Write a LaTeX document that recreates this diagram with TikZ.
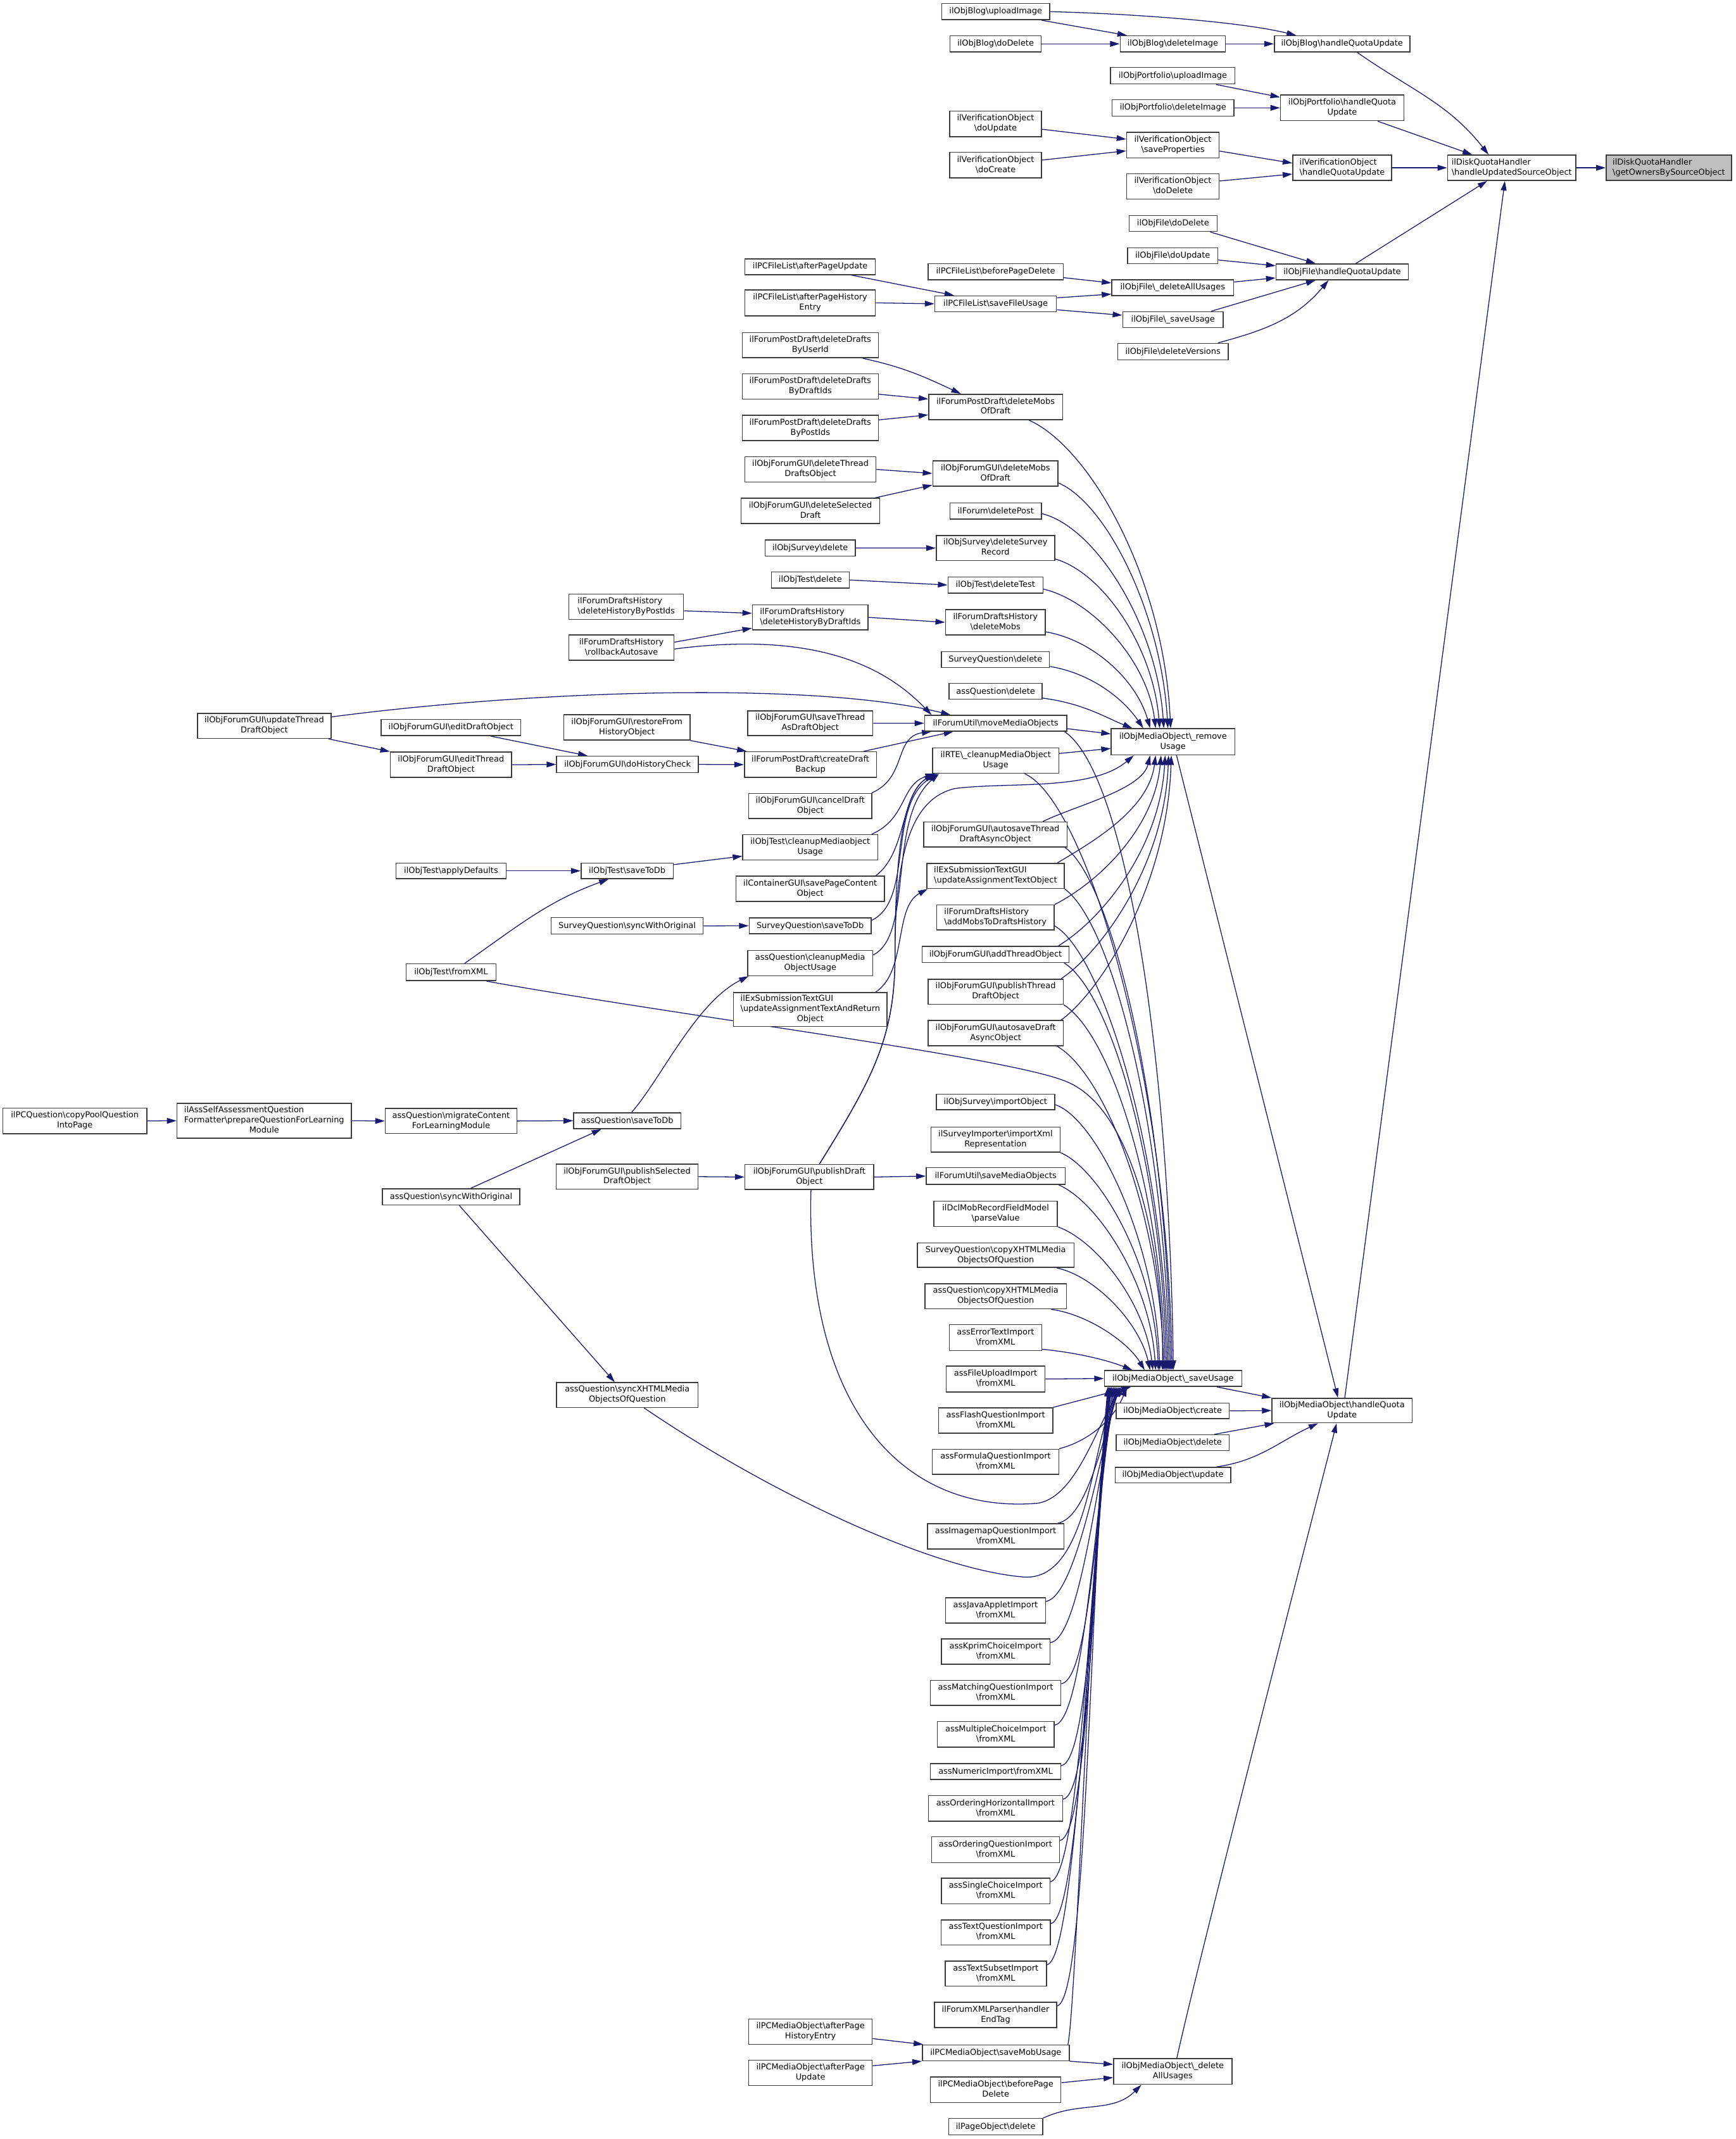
\documentclass[tikz,border=0pt]{standalone}
\usepackage{fontspec}
\setmainfont{DejaVu Sans}
\usetikzlibrary{arrows.meta}
\definecolor{edgec}{RGB}{25,25,112}
\definecolor{nodec}{RGB}{60,60,60}
\definecolor{rootc}{RGB}{191,191,191}
\newcommand\qbs{\textbackslash}
\newcommand\twol[2]{\begin{tabular}{@{}l@{}}#1\\\multicolumn{1}{@{}c@{}}{#2}\end{tabular}}
\newcommand\threel[3]{\begin{tabular}{@{}l@{}}#1\\#2\\\multicolumn{1}{@{}c@{}}{#3}\end{tabular}}
\newcommand\nd[7][]{\node[nb,#1,minimum width={(#5)-(#3)},minimum height={(#6)-(#4)}] (#2) at ({((#3)+(#5))/2},{-((#4)+(#6))/2}) {#7};}
\pgfdeclarelayer{bg}
\pgfsetlayers{bg,main}
\tikzset{nb/.style={draw=nodec,line width=0.7pt,fill=white,inner sep=0pt,font=\fontsize{6}{7.4}\selectfont},
edg/.style={draw=edgec,line width=0.6pt,-{Triangle[length=7pt,width=4.2pt]}}}
\begin{document}
\begin{tikzpicture}[x=1pt,y=1pt]
\begin{pgfonlayer}{bg}
\fill[white] (0,0) rectangle (1272,-1568);
\end{pgfonlayer}
\useasboundingbox (0,0) rectangle (1272,-1568);
% ---------------- nodes ----------------
\nd[fill=rootc]{root}{1177.2}{113.7}{1269.2}{132.3}{\twol{ilDiskQuotaHandler}{\qbs getOwnersBySourceObject}}
\nd{hus}{1061}{113.7}{1155}{132.3}{\twol{ilDiskQuotaHandler}{\qbs handleUpdatedSourceObject}}
\nd{blogHQ}{934}{26.3}{1033.3}{38}{ilObjBlog\qbs handleQuotaUpdate}
\nd{blogDel}{821}{26.3}{898.2}{38}{ilObjBlog\qbs deleteImage}
\nd{blogDoDel}{696.3}{26.3}{763.2}{38}{ilObjBlog\qbs doDelete}
\nd{blogUp}{690.2}{2.6}{769.4}{14.5}{ilObjBlog\qbs uploadImage}
\nd{pfUp}{814}{49.5}{905.2}{61.6}{ilObjPortfolio\qbs uploadImage}
\nd{pfDel}{815}{73}{904.5}{85.1}{ilObjPortfolio\qbs deleteImage}
\nd{pfHQ}{938.5}{69.6}{1029}{88.5}{\twol{ilObjPortfolio\qbs handleQuota}{Update}}
\nd{voUpd}{696}{81.5}{763.4}{100.2}{\twol{ilVerificationObject}{\qbs doUpdate}}
\nd{voCre}{696}{111.7}{763.4}{130.4}{\twol{ilVerificationObject}{\qbs doCreate}}
\nd{voSave}{825.8}{97}{893.5}{115.7}{\twol{ilVerificationObject}{\qbs saveProperties}}
\nd{voDel}{825.8}{127.3}{893.5}{145.9}{\twol{ilVerificationObject}{\qbs doDelete}}
\nd{voHQ}{947.5}{113.7}{1020}{132.3}{\twol{ilVerificationObject}{\qbs handleQuotaUpdate}}
\nd{fDoDel}{827.5}{158.1}{892.1}{169.7}{ilObjFile\qbs doDelete}
\nd{fDoUpd}{826.5}{181.6}{892.6}{193.2}{ilObjFile\qbs doUpdate}
\nd{fHQ}{935.3}{193.5}{1032.2}{205.1}{ilObjFile\qbs handleQuotaUpdate}
\nd{fDelAll}{814.9}{205.1}{904.2}{216.7}{ilObjFile\qbs\_deleteAllUsages}
\nd{fSave}{822.9}{228.5}{896.6}{240.1}{ilObjFile\qbs\_saveUsage}
\nd{fDelVer}{819.2}{251.7}{900.2}{263.9}{ilObjFile\qbs deleteVersions}
\nd{flUpd}{546}{189.7}{641.6}{201.3}{ilPCFileList\qbs afterPageUpdate}
\nd{flHist}{546}{212.5}{641.6}{231.5}{\twol{ilPCFileList\qbs afterPageHistory}{Entry}}
\nd{flBefore}{680.2}{193.3}{779.3}{205}{ilPCFileList\qbs beforePageDelete}
\nd{flSave}{685.2}{216.9}{774.3}{228.5}{ilPCFileList\qbs saveFileUsage}
\nd{pdUser}{544}{243.8}{643.8}{262.3}{\twol{ilForumPostDraft\qbs deleteDrafts}{ByUserId}}
\nd{pdDraft}{544}{274}{643.8}{292.5}{\twol{ilForumPostDraft\qbs deleteDrafts}{ByDraftIds}}
\nd{pdPost}{544}{304.3}{643.8}{323}{\twol{ilForumPostDraft\qbs deleteDrafts}{ByPostIds}}
\nd{pdMobs}{680.7}{289}{778.8}{307.6}{\twol{ilForumPostDraft\qbs deleteMobs}{OfDraft}}
\nd{fgThread}{546}{334.8}{642}{353.4}{\twol{ilObjForumGUI\qbs deleteThread}{DraftsObject}}
\nd{fgSel}{543.2}{365.3}{644.8}{383.7}{\twol{ilObjForumGUI\qbs deleteSelected}{Draft}}
\nd{fgMobs}{683.7}{337.8}{775.5}{356.3}{\twol{ilObjForumGUI\qbs deleteMobs}{OfDraft}}
\nd{fDelPost}{696.3}{368.6}{763.3}{380.4}{ilForum\qbs deletePost}
\nd{svDel}{560.7}{395.8}{627}{407.6}{ilObjSurvey\qbs delete}
\nd{svRec}{686.2}{392.5}{773}{411}{\twol{ilObjSurvey\qbs deleteSurvey}{Record}}
\nd{tDel}{565.4}{419.2}{622.4}{431.1}{ilObjTest\qbs delete}
\nd{tDelTest}{694.8}{422.9}{764.4}{434.8}{ilObjTest\qbs deleteTest}
\nd{hPost}{417}{435.5}{501}{454}{\twol{ilForumDraftsHistory}{\qbs deleteHistoryByPostIds}}
\nd{hDraft}{551.5}{443.4}{636.3}{461.7}{\twol{ilForumDraftsHistory}{\qbs deleteHistoryByDraftIds}}
\nd{rollback}{417}{465.5}{494}{484}{\twol{ilForumDraftsHistory}{\qbs rollbackAutosave}}
\nd{hMobs}{693}{446.9}{766.2}{465.5}{\twol{ilForumDraftsHistory}{\qbs deleteMobs}}
\nd{sqDel}{690}{477.7}{769.2}{489.4}{SurveyQuestion\qbs delete}
\nd{aqDel}{695.6}{500.9}{763.9}{512.6}{assQuestion\qbs delete}
\nd{fgUpdThr}{144.7}{523}{242.7}{541.3}{\twol{ilObjForumGUI\qbs updateThread}{DraftObject}}
\nd{fgEditDraft}{279.4}{527.3}{381.7}{539.3}{ilObjForumGUI\qbs editDraftObject}
\nd{fgRestore}{413.3}{523.8}{505.7}{542.5}{\twol{ilObjForumGUI\qbs restoreFrom}{HistoryObject}}
\nd{fgSaveThr}{548}{521.1}{639.7}{539.3}{\twol{ilObjForumGUI\qbs saveThread}{AsDraftObject}}
\nd{moveMO}{677.7}{524.4}{781.8}{535.9}{ilForumUtil\qbs moveMediaObjects}
\nd{remU}{814.5}{534.2}{905}{553.4}{\twol{ilObjMediaObject\qbs\_remove}{Usage}}
\nd{fgEditThr}{286.1}{551.3}{375}{569.9}{\twol{ilObjForumGUI\qbs editThread}{DraftObject}}
\nd{fgHist}{408}{554.4}{511.9}{566.3}{ilObjForumGUI\qbs doHistoryCheck}
\nd{pdBackup}{545.6}{551.1}{642.4}{569.9}{\twol{ilForumPostDraft\qbs createDraft}{Backup}}
\nd{rte}{683.6}{548.2}{776}{566.8}{\twol{ilRTE\qbs\_cleanupMediaObject}{Usage}}
\nd{fgCancel}{548.8}{581.6}{639}{600}{\twol{ilObjForumGUI\qbs cancelDraft}{Object}}
\nd{fgAutoThr}{677}{602.5}{782.1}{621}{\twol{ilObjForumGUI\qbs autosaveThread}{DraftAsyncObject}}
\nd{tClean}{544.4}{611.9}{643.3}{630.3}{\twol{ilObjTest\qbs cleanupMediaobject}{Usage}}
\nd{tDefaults}{290.2}{632.7}{371}{644.1}{ilObjTest\qbs applyDefaults}
\nd{tSave}{425.9}{632.7}{493.4}{644.1}{ilObjTest\qbs saveToDb}
\nd{exUpd}{679.3}{632.9}{780}{651.3}{\twol{ilExSubmissionTextGUI}{\qbs updateAssignmentTextObject}}
\nd{cont}{539.4}{642.3}{648.3}{660.8}{\twol{ilContainerGUI\qbs savePageContent}{Object}}
\nd{hAdd}{686.6}{663.4}{772.6}{681.6}{\twol{ilForumDraftsHistory}{\qbs addMobsToDraftsHistory}}
\nd{sqSync}{403.9}{672.7}{515.4}{684.8}{SurveyQuestion\qbs syncWithOriginal}
\nd{sqSave}{549.1}{672.8}{638.5}{684.5}{SurveyQuestion\qbs saveToDb}
\nd{fgAdd}{675.8}{693.7}{783.6}{705.5}{ilObjForumGUI\qbs addThreadObject}
\nd{aqClean}{548}{696.8}{639.7}{715.2}{\twol{assQuestion\qbs cleanupMedia}{ObjectUsage}}
\nd{tXML}{297.7}{706.5}{363.5}{718.9}{ilObjTest\qbs fromXML}
\nd{fgPubThr}{680.2}{717.8}{779.3}{736.2}{\twol{ilObjForumGUI\qbs publishThread}{DraftObject}}
\nd{exUpdRet}{537.6}{727.5}{650.2}{752.4}{\threel{ilExSubmissionTextGUI}{\qbs updateAssignmentTextAndReturn}{Object}}
\nd{fgAutoDr}{680.2}{748.1}{779.3}{766.5}{\twol{ilObjForumGUI\qbs autosaveDraft}{AsyncObject}}
\nd{svImp}{686.2}{802.1}{773.1}{813.5}{ilObjSurvey\qbs importObject}
\nd{svImpXml}{682.3}{826.2}{777}{844.6}{\twol{ilSurveyImporter\qbs importXml}{Representation}}
\nd{copyPool}{2.1}{812.4}{107.6}{831}{\twol{ilPCQuestion\qbs copyPoolQuestion}{IntoPage}}
\nd{prep}{129.7}{808.7}{257.6}{834.4}{\threel{ilAssSelfAssessmentQuestion}{Formatter\qbs prepareQuestionForLearning}{Module}}
\nd{migr}{282.4}{812.6}{378.8}{830.9}{\twol{assQuestion\qbs migrateContent}{ForLearningModule}}
\nd{aqSave}{420.4}{815.7}{499}{827.4}{assQuestion\qbs saveToDb}
\nd{fgPubSel}{407.6}{853.3}{511.7}{871.8}{\twol{ilObjForumGUI\qbs publishSelected}{DraftObject}}
\nd{fgPub}{546}{853.6}{640.4}{872}{\twol{ilObjForumGUI\qbs publishDraft}{Object}}
\nd{saveMO}{678.9}{856}{780.7}{868.3}{ilForumUtil\qbs saveMediaObjects}
\nd{dcl}{684.5}{880.5}{775}{899}{\twol{ilDclMobRecordFieldModel}{\qbs parseValue}}
\nd{sqCopy}{672.4}{911.2}{787.2}{929.1}{\twol{SurveyQuestion\qbs copyXHTMLMedia}{ObjectsOfQuestion}}
\nd{aqCopy}{678}{941}{781.6}{959.4}{\twol{assQuestion\qbs copyXHTMLMedia}{ObjectsOfQuestion}}
\nd{aqSync}{280.3}{871.4}{381}{883.3}{assQuestion\qbs syncWithOriginal}
\nd{iErr}{695.8}{971.1}{763.5}{990}{\twol{assErrorTextImport}{\qbs fromXML}}
\nd{iFile}{693.5}{1001.4}{766}{1020.3}{\twol{assFileUploadImport}{\qbs fromXML}}
\nd{saveU}{809.4}{1004.7}{910.2}{1016.3}{ilObjMediaObject\qbs\_saveUsage}
\nd{moHQ}{932.3}{1025}{1035}{1043}{\twol{ilObjMediaObject\qbs handleQuota}{Update}}
\nd{moCreate}{818}{1028.5}{901}{1040}{ilObjMediaObject\qbs create}
\nd{iFlash}{687.9}{1032}{771.6}{1050.5}{\twol{assFlashQuestionImport}{\qbs fromXML}}
\nd{moDelete}{818}{1051.8}{901}{1063.3}{ilObjMediaObject\qbs delete}
\nd{iFormula}{683.4}{1062.3}{776}{1080.7}{\twol{assFormulaQuestionImport}{\qbs fromXML}}
\nd{moUpdate}{817.3}{1075.6}{902}{1087}{ilObjMediaObject\qbs update}
\nd{aqSyncX}{408}{1013.5}{511.5}{1031.7}{\twol{assQuestion\qbs syncXHTMLMedia}{ObjectsOfQuestion}}
\nd{iImg}{679.7}{1117}{779.8}{1135.4}{\twol{assImagemapQuestionImport}{\qbs fromXML}}
\nd{iJava}{693}{1171.3}{766.3}{1189.7}{\twol{assJavaAppletImport}{\qbs fromXML}}
\nd{iKprim}{690}{1201.5}{769.6}{1220}{\twol{assKprimChoiceImport}{\qbs fromXML}}
\nd{iMatch}{681.9}{1231.7}{777.5}{1250.2}{\twol{assMatchingQuestionImport}{\qbs fromXML}}
\nd{iMC}{687}{1262}{772.7}{1280.8}{\twol{assMultipleChoiceImport}{\qbs fromXML}}
\nd{iNum}{681.9}{1292.7}{777.5}{1304.5}{assNumericImport\qbs fromXML}
\nd{iOrdH}{680.6}{1316.3}{778.8}{1335.1}{\twol{assOrderingHorizontalImport}{\qbs fromXML}}
\nd{iOrdQ}{682.8}{1346.5}{776.5}{1365.4}{\twol{assOrderingQuestionImport}{\qbs fromXML}}
\nd{iSC}{690}{1376.7}{769.6}{1395.6}{\twol{assSingleChoiceImport}{\qbs fromXML}}
\nd{iTQ}{689.7}{1407.4}{769.9}{1425.8}{\twol{assTextQuestionImport}{\qbs fromXML}}
\nd{iTS}{692.7}{1437.6}{767}{1456}{\twol{assTextSubsetImport}{\qbs fromXML}}
\nd{xmlP}{685}{1467.8}{774.4}{1486.2}{\twol{ilForumXMLParser\qbs handler}{EndTag}}
\nd{pmHist}{548.8}{1480}{639.3}{1498.5}{\twol{ilPCMediaObject\qbs afterPage}{HistoryEntry}}
\nd{pmSave}{676}{1499}{783.7}{1510.6}{ilPCMediaObject\qbs saveMobUsage}
\nd{delAll}{816.2}{1509}{902.9}{1527.9}{\twol{ilObjMediaObject\qbs\_delete}{AllUsages}}
\nd{pmUpd}{548.8}{1510.2}{639.3}{1528.8}{\twol{ilPCMediaObject\qbs afterPage}{Update}}
\nd{pmBefore}{682}{1522.6}{777.6}{1541.3}{\twol{ilPCMediaObject\qbs beforePage}{Delete}}
\nd{pgDel}{695.4}{1553}{764.2}{1565}{ilPageObject\qbs delete}
% ---------------- edges ----------------
\begin{pgfonlayer}{bg}
% top group
\draw[edg] (hus.east) -- (root.west);
\draw[edg] ([xshift=11]blogHQ.south) to[out=-35,in=128] ([xshift=-17]hus.north);
\draw[edg] ([xshift=26]pfHQ.south) -- ([xshift=-29]hus.north);
\draw[edg] (voHQ.east) -- (hus.west);
\draw[edg] ([xshift=10]fHQ.north) -- ([xshift=-18]hus.south);
\draw[edg] ([xshift=2]moHQ.north) -- ([xshift=-5]hus.south);
\draw[edg] (blogUp.east) .. controls (830,-10) and (910,-16) .. ([xshift=-33.6]blogHQ.north);
\draw[edg] ([xshift=33.6]blogUp.south) -- ([xshift=-33.6]blogDel.north);
\draw[edg] (blogDoDel.east) -- (blogDel.west);
\draw[edg] (blogDel.east) -- (blogHQ.west);
\draw[edg] ([xshift=31.7]pfUp.south) -- ([yshift=7.8]pfHQ.west);
\draw[edg] (pfDel.east) -- (pfHQ.west);
\draw[edg] ([yshift=-3.9]voUpd.east) -- ([yshift=4.3]voSave.west);
\draw[edg] ([yshift=3.7]voCre.east) -- ([yshift=-4.2]voSave.west);
\draw[edg] ([yshift=-4.4]voSave.east) -- ([yshift=3.4]voHQ.west);
\draw[edg] ([yshift=3.9]voDel.east) -- ([yshift=-4.6]voHQ.west);
\draw[edg] ([xshift=27.2]fDoDel.south) -- ([xshift=-19.5]fHQ.north);
\draw[edg] ([yshift=-3.2]fDoUpd.east) -- ([yshift=4.5]fHQ.west);
\draw[edg] ([yshift=4.2]fDelAll.east) -- ([yshift=-4.4]fHQ.west);
\draw[edg] ([xshift=28]fSave.north) -- ([xshift=-19.5]fHQ.south);
\draw[edg] ([xshift=33]fDelVer.north) to[out=15,in=-130] ([xshift=-10]fHQ.south);
\draw[edg] ([yshift=-4.4]flBefore.east) -- ([yshift=3.5]fDelAll.west);
\draw[edg] ([yshift=4.4]flSave.east) -- ([yshift=-4.7]fDelAll.west);
\draw[edg] ([yshift=-4.4]flSave.east) -- ([yshift=3.2]fSave.west);
\draw[edg] ([xshift=30]flUpd.south) -- ([xshift=-30.5]flSave.north);
\draw[edg] (flHist.east) -- (flSave.west);
% forum post draft / forum GUI
\draw[edg] ([xshift=38.3]pdUser.south) to[out=-12,in=155] ([xshift=-25.5]pdMobs.north);
\draw[edg] ([yshift=-5.75]pdDraft.east) -- ([yshift=5.8]pdMobs.west);
\draw[edg] ([yshift=5.85]pdPost.east) -- ([yshift=-5.8]pdMobs.west);
\draw[edg] (fgThread.east) -- (fgMobs.west);
\draw[edg] ([xshift=47.3]fgSel.north) -- ([yshift=-8.5]fgMobs.west);
\draw[edg] (svDel.east) -- (svRec.west);
\draw[edg] (tDel.east) -- (tDelTest.west);
\draw[edg] (hDraft.east) -- (hMobs.west);
\draw[edg] ([yshift=-3]hPost.east) -- ([yshift=3]hDraft.west);
\draw[edg] ([yshift=4]rollback.east) -- ([yshift=-7.9]hDraft.west);
\draw[edg] ([yshift=-1]rollback.east) .. controls (600,-462) and (650,-490) .. ([xshift=-47]moveMO.north);
\draw[edg] ([yshift=6.65]fgUpdThr.east) .. controls (400,-505) and (600,-500) .. ([xshift=-33]moveMO.north);
\draw[edg] ([xshift=47]fgUpdThr.south) -- (fgEditThr.north west);
\draw[edg] ([xshift=29.2]fgEditDraft.south) -- ([xshift=-29.2]fgHist.north);
\draw[edg] (fgEditThr.east) -- (fgHist.west);
\draw[edg] (fgRestore.south east) -- ([xshift=2]pdBackup.north west);
\draw[edg] (fgHist.east) -- (pdBackup.west);
\draw[edg] (fgSaveThr.east) -- (moveMO.west);
\draw[edg] ([xshift=39]pdBackup.north) -- ([xshift=-31]moveMO.south);
\draw[edg] ([xshift=45]fgCancel.north) .. controls (665,-570) and (655,-540) .. ([xshift=-47]moveMO.south);
% RTE callers
\draw[edg] ([xshift=45]tClean.north) .. controls (665,-600) and (660,-575) .. ([xshift=2]rte.south west);
\draw[edg] ([xshift=48]cont.north) .. controls (665,-625) and (660,-580) .. ([xshift=3]rte.south west);
\draw[edg] ([yshift=4]sqSave.east) .. controls (670,-660) and (650,-590) .. ([xshift=4]rte.south west);
\draw[edg] ([yshift=6]aqClean.east) .. controls (670,-685) and (650,-600) .. ([xshift=5]rte.south west);
\draw[edg] ([xshift=7.4]fgPub.north) .. controls (640,-790) and (656,-760) .. (656,-700) .. controls (656,-610) and (665,-580) .. ([xshift=1]rte.south west);
\draw[edg] ([xshift=7.4]fgPub.north) .. controls (640,-790) and (656,-760) .. (656,-700) .. controls (656,-620) and (670,-585) .. (700,-578) .. controls (740,-573) and (800,-580) .. ([xshift=-28.75]remU.south);
\draw[edg] ([xshift=48]exUpdRet.north) .. controls (665,-712) and (655,-665) .. ([xshift=1]exUpd.south west);
% tests and questions
\draw[edg] (tDefaults.east) -- (tSave.west);
\draw[edg] ([xshift=10]tXML.north) to[out=35,in=-160] ([xshift=-13.6]tSave.south);
\draw[edg] ([yshift=4.6]tSave.east) -- ([yshift=-6.5]tClean.west);
\draw[edg] (sqSync.east) -- (sqSave.west);
\draw[edg] ([xshift=3.3]aqSave.north) .. controls (485,-790) and (510,-735) .. ([xshift=1]aqClean.south west);
\draw[edg] (migr.east) -- (aqSave.west);
\draw[edg] ([xshift=14.4]aqSync.north) -- ([xshift=-19]aqSave.south);
\draw[edg] (prep.east) -- (migr.west);
\draw[edg] (copyPool.east) -- (prep.west);
\draw[edg] ([xshift=6]aqSync.south) -- ([xshift=-9.2]aqSyncX.north);
\draw[edg] (fgPubSel.east) -- (fgPub.west);
\draw[edg] (fgPub.east) -- (saveMO.west);
% long curves into _saveUsage
\draw[edg] ([xshift=1.2]fgPub.south) .. controls (590,-1030) and (660,-1110) .. (760,-1102) .. controls (790,-1098) and (805,-1040) .. ([xshift=-35.8]saveU.south);
\draw[edg] ([xshift=12.3]aqSyncX.south) .. controls (560,-1092) and (680,-1150) .. (750,-1156) .. controls (800,-1160) and (800,-1050) .. ([xshift=-37.8]saveU.south);
\draw[edg] ([xshift=26]tXML.south) .. controls (500,-745) and (740,-775) .. (782,-793) .. controls (835,-815) and (853,-930) .. ([xshift=-7.8]saveU.north);
% media object handle quota
\draw[edg] ([xshift=2.6]remU.south) -- ([xshift=-3]moHQ.north);
\draw[edg] ([xshift=32]saveU.south) -- (moHQ.north west);
\draw[edg] (moCreate.east) -- (moHQ.west);
\draw[edg] ([xshift=30.5]moDelete.north) -- ([xshift=2]moHQ.south west);
\draw[edg] ([xshift=32]moUpdate.north) to[out=8,in=-155] ([xshift=-17.6]moHQ.south);
\draw[edg] ([xshift=3]delAll.north) .. controls (880,-1430) and (960,-1120) .. ([xshift=-4]moHQ.south);
\draw[edg] (iFile.east) -- (saveU.west);
\draw[edg] (pmSave.south east) -- ([yshift=5.15]delAll.west);
\draw[edg] ([yshift=-5.15]pmHist.east) -- ([xshift=1]pmSave.north west);
\draw[edg] ([yshift=5.2]pmUpd.east) -- (pmSave.south west);
\draw[edg] ([yshift=5.25]pmBefore.east) -- ([yshift=-4.45]delAll.west);
\draw[edg] (pgDel.north east) to[out=25,in=-135] ([xshift=-23]delAll.south);
% fan into _removeUsage (from above)
\draw[edg] ([xshift=24.3]pdMobs.south) .. controls +(45,-20) and +(-5,110) .. ([xshift=-1.75]remU.north);
\draw[edg] ([yshift=-7]fgMobs.east) .. controls +(35,-15) and +(-5,85) .. ([xshift=-3.75]remU.north);
\draw[edg] ([yshift=-2]fDelPost.east) .. controls +(40,-10) and +(-5,75) .. ([xshift=-6.75]remU.north);
\draw[edg] ([yshift=-8]svRec.east) .. controls +(35,-10) and +(-5,60) .. ([xshift=-9.75]remU.north);
\draw[edg] ([yshift=-3]tDelTest.east) .. controls +(35,-8) and +(-6,50) .. ([xshift=-12.75]remU.north);
\draw[edg] ([yshift=-7]hMobs.east) .. controls +(35,-6) and +(-10,35) .. ([xshift=-16.75]remU.north);
\draw[edg] ([yshift=-5]sqDel.east) .. controls +(30,-5) and +(-15,22) .. ([xshift=-21.75]remU.north);
\draw[edg] ([yshift=-5]aqDel.east) .. controls +(30,-4) and +(-20,8) .. ([xshift=-29.75]remU.north);
\draw[edg] ([yshift=-4]moveMO.east) -- ([yshift=5.8]remU.west);
\draw[edg] ([yshift=5.2]rte.east) -- ([yshift=-4.9]remU.west);
% fan into _removeUsage (from below)
\draw[edg] ([xshift=34.85]fgAutoThr.north) .. controls +(25,12) and +(-6,-25) .. ([xshift=-16.75]remU.south);
\draw[edg] ([xshift=45.35]exUpd.north) .. controls +(25,15) and +(-5,-40) .. ([xshift=-12.75]remU.south);
\draw[edg] (hAdd.north east) .. controls +(30,15) and +(-5,-55) .. ([xshift=-8.75]remU.south);
\draw[edg] ([xshift=46]fgAdd.north) .. controls +(30,18) and +(-4,-70) .. ([xshift=-5.75]remU.south);
\draw[edg] ([xshift=48]fgPubThr.north) .. controls +(30,20) and +(-3,-80) .. ([xshift=-3.25]remU.south);
\draw[edg] ([xshift=48]fgAutoDr.north) .. controls +(30,22) and +(-3,-95) .. ([xshift=-1.25]remU.south);
% fan into _saveUsage (from above)
\draw[edg] ([xshift=-2]moveMO.south east) .. controls +(45,-30) and +(-3,230) .. ([xshift=0.2]saveU.north);
\draw[edg] ([xshift=21.2]rte.south) .. controls +(45,-20) and +(-3,215) .. ([xshift=-0.8]saveU.north);
\draw[edg] ([xshift=-1.7]fgAutoThr.south east) .. controls +(35,-25) and +(-3,190) .. ([xshift=-1.8]saveU.north);
\draw[edg] (exUpd.south east) .. controls +(35,-25) and +(-3,175) .. ([xshift=-2.8]saveU.north);
\draw[edg] ([yshift=-6.2]hAdd.east) .. controls +(35,-20) and +(-3,160) .. ([xshift=-3.8]saveU.north);
\draw[edg] ([xshift=-4]fgAdd.south east) .. controls +(35,-22) and +(-3,145) .. ([xshift=-4.8]saveU.north);
\draw[edg] (fgPubThr.south east) .. controls +(35,-22) and +(-3,130) .. ([xshift=-5.8]saveU.north);
\draw[edg] ([xshift=-5]fgAutoDr.south east) .. controls +(35,-20) and +(-3,115) .. ([xshift=-6.8]saveU.north);
\draw[edg] ([yshift=-2]svImp.east) .. controls +(30,-10) and +(-3,95) .. ([xshift=-9.8]saveU.north);
\draw[edg] (svImpXml.south east) .. controls +(28,-12) and +(-3,80) .. ([xshift=-10.8]saveU.north);
\draw[edg] ([xshift=-5]saveMO.south east) .. controls +(28,-12) and +(-4,65) .. ([xshift=-12.8]saveU.north);
\draw[edg] (dcl.south east) .. controls +(28,-10) and +(-6,50) .. ([xshift=-14.8]saveU.north);
\draw[edg] ([xshift=-13]sqCopy.south east) .. controls +(28,-6) and +(-8,35) .. ([xshift=-16.8]saveU.north);
\draw[edg] ([xshift=-11.6]aqCopy.south east) .. controls +(28,-4) and +(-12,20) .. ([xshift=-20.8]saveU.north);
\draw[edg] ([yshift=-8.5]iErr.east) .. controls +(30,-3) and +(-15,6) .. ([xshift=-29.8]saveU.north);
% fan into _saveUsage (from below)
\draw[edg] (iFlash.north east) -- ([xshift=-30.8]saveU.south);
\draw[edg] (iFormula.north east) .. controls +(20,5) and +(-10,-25) .. ([xshift=-33.8]saveU.south);
\draw[edg] ([xshift=-5]iImg.north east) .. controls +(22,4) and +(-12,-35) .. ([xshift=-38.8]saveU.south);
\draw[edg] ([yshift=-3]iJava.north east) .. controls +(22,4) and +(-14,-52) .. ([xshift=-39.8]saveU.south);
\draw[edg] ([yshift=-3]iKprim.north east) .. controls +(22,4) and +(-14,-62) .. ([xshift=-40.8]saveU.south);
\draw[edg] ([yshift=-3]iMatch.north east) .. controls +(22,4) and +(-14,-72) .. ([xshift=-41.8]saveU.south);
\draw[edg] ([yshift=-3]iMC.north east) .. controls +(22,4) and +(-14,-82) .. ([xshift=-42.8]saveU.south);
\draw[edg] ([yshift=-2]iNum.north east) .. controls +(22,4) and +(-14,-92) .. ([xshift=-43.8]saveU.south);
\draw[edg] ([yshift=-3]iOrdH.north east) .. controls +(22,4) and +(-14,-100) .. ([xshift=-44.8]saveU.south);
\draw[edg] ([yshift=-3]iOrdQ.north east) .. controls +(22,4) and +(-14,-110) .. ([xshift=-45.3]saveU.south);
\draw[edg] ([yshift=-3]iSC.north east) .. controls +(22,4) and +(-14,-120) .. ([xshift=-45.8]saveU.south);
\draw[edg] ([yshift=-3]iTQ.north east) .. controls +(22,4) and +(-14,-130) .. ([xshift=-46.3]saveU.south);
\draw[edg] ([yshift=-3]iTS.north east) .. controls +(22,4) and +(-14,-140) .. ([xshift=-46.8]saveU.south);
\draw[edg] ([yshift=-3]xmlP.north east) .. controls +(22,4) and +(-14,-150) .. ([xshift=-47.3]saveU.south);
\draw[edg] ([xshift=-1.3]pmSave.north east) .. controls +(6,30) and +(-14,-160) .. ([xshift=-47.8]saveU.south);
\end{pgfonlayer}
\end{tikzpicture}
\end{document}
